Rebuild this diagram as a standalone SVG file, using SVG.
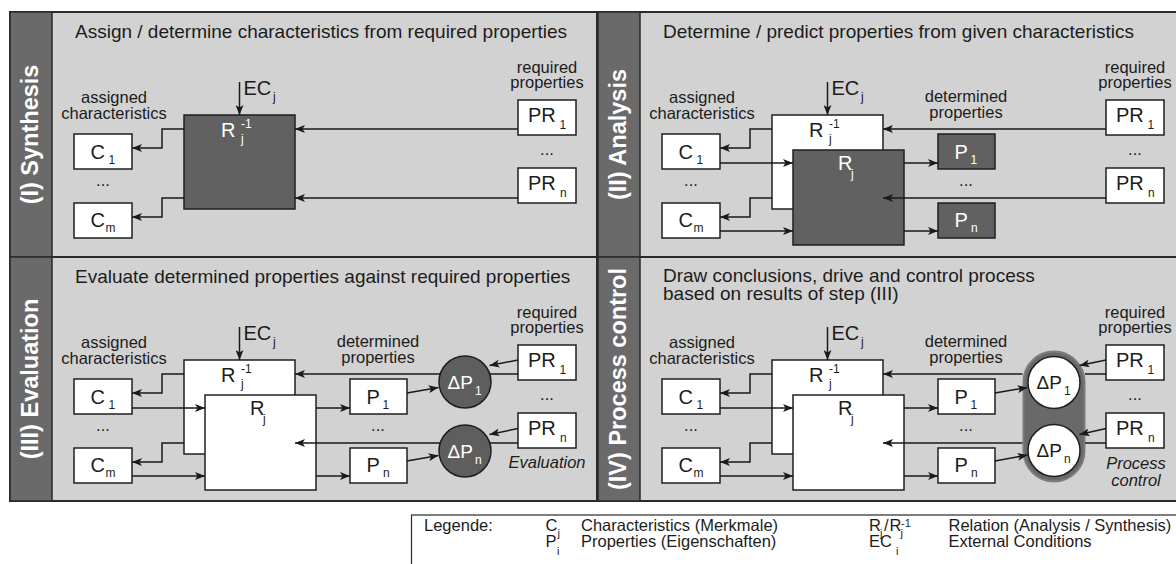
<svg xmlns="http://www.w3.org/2000/svg" width="1176" height="564" viewBox="0 0 1176 564">
  <style>
    text { font-family: "Liberation Sans", Arial, Helvetica, sans-serif; fill: #1c1c1c; }
    .title { font-size: 19px; }
    .lbl { font-size: 16.5px; text-anchor: middle; }
    .ital { font-size: 16.5px; font-style: italic; text-anchor: middle; }
    .sym { font-size: 20px; }
    .csym { font-size: 19px; }
    .sub { font-size: 12px; }
    .bar { font-size: 23.5px; font-weight: bold; fill: #ffffff; text-anchor: middle; }
    .w { fill: #ffffff; }
    .frame { fill: #d2d2d2; stroke: #2a2a2a; stroke-width: 2; }
    .sep { stroke: #2a2a2a; stroke-width: 2; fill: none; }
    .sidebar { fill: #6a6a6a; stroke: #2a2a2a; stroke-width: 1.5; }
    .box { fill: #ffffff; stroke: #1f1f1f; stroke-width: 1.5; }
    .dbox { fill: #616161; stroke: #1f1f1f; stroke-width: 1.5; }
    .dcirc { fill: #5e5e5e; stroke: #1f1f1f; stroke-width: 1.5; }
    .wcirc { fill: #ffffff; stroke: #1f1f1f; stroke-width: 1.5; }
    .pill { fill: #696969; stroke: #7d7d7d; stroke-width: 2; }
    .con { fill: none; stroke: #1a1a1a; stroke-width: 1.5; marker-end: url(#ah); }
    .legend { fill: #ffffff; stroke: #2a2a2a; stroke-width: 1.2; }
    .ltxt { font-size: 16.5px; }
    .lsub { font-size: 11px; }
  </style>
  <defs>
    <marker id="ah" viewBox="0 0 10 8" markerUnits="userSpaceOnUse" markerWidth="10" markerHeight="8" refX="10" refY="4" orient="auto">
      <path d="M0,0 L10,4 L0,8 L2.5,4 Z" fill="#1a1a1a"/>
    </marker>
  </defs>

  <rect width="1176" height="564" fill="#ffffff"/>

  <!-- outer frame, quadrant separators and side bars -->
  <g id="frame">
    <rect class="frame" x="10" y="12" width="1180" height="489"/>
    <path class="sep" d="M10,257 H1180 M597,12 V501"/>
    <rect class="sidebar" x="10" y="12" width="42" height="245"/>
    <rect class="sidebar" x="10" y="257" width="42" height="244"/>
    <rect class="sidebar" x="598" y="12" width="42" height="245"/>
    <rect class="sidebar" x="598" y="257" width="42" height="244"/>
    <text class="bar" transform="translate(38,134.5) rotate(-90)">(I) Synthesis</text>
    <text class="bar" transform="translate(626,134.5) rotate(-90)">(II) Analysis</text>
    <text class="bar" transform="translate(38,379) rotate(-90)">(III) Evaluation</text>
    <text class="bar" transform="translate(626,379) rotate(-90)">(IV) Process control</text>
  </g>

  <!-- (I) Synthesis -->
  <g id="synthesis">
    <text class="title" x="75" y="38">Assign / determine characteristics from required properties</text>
    <text class="lbl" x="114" y="103">assigned</text>
    <text class="lbl" x="114" y="119">characteristics</text>
    <text class="lbl" x="547" y="72.5">required</text>
    <text class="lbl" x="547" y="88">properties</text>
    <text class="sym" x="243.5" y="95">EC<tspan class="sub" x="273" y="101">j</tspan></text>
    <g id="syn-c1"><rect class="box" x="74" y="134" width="58" height="35"/><text class="sym" x="90.5" y="159">C<tspan class="sub" x="108.5" y="164">1</tspan></text></g>
    <text class="lbl" x="103" y="186">...</text>
    <g id="syn-cm"><rect class="box" x="74" y="203" width="58" height="35"/><text class="sym" x="90.5" y="227">C<tspan class="sub" x="105.5" y="232">m</tspan></text></g>
    <g id="syn-rinv"><rect class="dbox" x="184" y="115" width="111" height="94"/><text class="sym w" x="221" y="137">R<tspan class="sub w" x="241" y="128">-1</tspan><tspan class="sub w" x="241" y="143">j</tspan></text></g>
    <g id="syn-pr1"><rect class="box" x="518" y="100" width="58" height="35"/><text class="sym" x="528" y="122">PR<tspan class="sub" x="559.5" y="128.5">1</tspan></text></g>
    <text class="lbl" x="547" y="155">...</text>
    <g id="syn-prn"><rect class="box" x="518" y="168" width="58" height="35"/><text class="sym" x="528" y="190">PR<tspan class="sub" x="560" y="196.5">n</tspan></text></g>
    <g id="syn-connectors">
      <path class="con" d="M239.5,82 V115"/>
      <path class="con" d="M184,129 H162 V148 H132"/>
      <path class="con" d="M184,198 H162 V217 H132"/>
      <path class="con" d="M518,129 H295"/>
      <path class="con" d="M518,198 H295"/>
    </g>
  </g>

  <!-- (II) Analysis -->
  <g id="analysis" transform="translate(588,0)">
    <text class="title" x="75" y="38">Determine / predict properties from given characteristics</text>
    <text class="lbl" x="114" y="103">assigned</text>
    <text class="lbl" x="114" y="119">characteristics</text>
    <text class="lbl" x="378" y="102">determined</text>
    <text class="lbl" x="378" y="118">properties</text>
    <text class="lbl" x="547" y="72.5">required</text>
    <text class="lbl" x="547" y="88">properties</text>
    <text class="sym" x="243.5" y="95">EC<tspan class="sub" x="273" y="101">j</tspan></text>
    <g id="ana-c1"><rect class="box" x="74" y="134" width="58" height="35"/><text class="sym" x="90.5" y="159">C<tspan class="sub" x="108.5" y="164">1</tspan></text></g>
    <text class="lbl" x="103" y="186">...</text>
    <g id="ana-cm"><rect class="box" x="74" y="203" width="58" height="35"/><text class="sym" x="90.5" y="227">C<tspan class="sub" x="105.5" y="232">m</tspan></text></g>
    <g id="ana-rinv"><rect class="box" x="184" y="115" width="111" height="94"/><text class="sym" x="221" y="137">R<tspan class="sub" x="241" y="128">-1</tspan><tspan class="sub" x="241" y="143">j</tspan></text></g>
    <g id="ana-r"><rect class="dbox" x="205" y="150" width="111" height="95"/><text class="sym w" x="250" y="170">R<tspan class="sub w" x="263" y="178">j</tspan></text></g>
    <g id="ana-p1"><rect class="dbox" x="350" y="134" width="57" height="35"/><text class="sym w" x="366.5" y="159">P<tspan class="sub w" x="382.5" y="164">1</tspan></text></g>
    <text class="lbl" x="378" y="186">...</text>
    <g id="ana-pn"><rect class="dbox" x="350" y="203" width="57" height="35"/><text class="sym w" x="366.5" y="227">P<tspan class="sub w" x="383" y="232">n</tspan></text></g>
    <g id="ana-pr1"><rect class="box" x="518" y="100" width="58" height="35"/><text class="sym" x="528" y="122">PR<tspan class="sub" x="559.5" y="128.5">1</tspan></text></g>
    <text class="lbl" x="547" y="155">...</text>
    <g id="ana-prn"><rect class="box" x="518" y="168" width="58" height="35"/><text class="sym" x="528" y="190">PR<tspan class="sub" x="560" y="196.5">n</tspan></text></g>
    <g id="ana-connectors">
      <path class="con" d="M239.5,82 V115"/>
      <path class="con" d="M184,129 H162 V148 H132"/>
      <path class="con" d="M184,198 H162 V217 H132"/>
      <path class="con" d="M132,163 H205"/>
      <path class="con" d="M132,231 H205"/>
      <path class="con" d="M316,163 H350"/>
      <path class="con" d="M316,231 H350"/>
      <path class="con" d="M518,129 H295"/>
      <path class="con" d="M518,198 H295"/>
    </g>
  </g>

  <!-- (III) Evaluation -->
  <g id="evaluation" transform="translate(0,245)">
    <text class="title" x="75" y="38">Evaluate determined properties against required properties</text>
    <text class="lbl" x="114" y="103">assigned</text>
    <text class="lbl" x="114" y="119">characteristics</text>
    <text class="lbl" x="378" y="102">determined</text>
    <text class="lbl" x="378" y="118">properties</text>
    <text class="lbl" x="547" y="72.5">required</text>
    <text class="lbl" x="547" y="88">properties</text>
    <text class="sym" x="243.5" y="95">EC<tspan class="sub" x="273" y="101">j</tspan></text>
    <g id="eva-c1"><rect class="box" x="74" y="134" width="58" height="35"/><text class="sym" x="90.5" y="159">C<tspan class="sub" x="108.5" y="164">1</tspan></text></g>
    <text class="lbl" x="103" y="186">...</text>
    <g id="eva-cm"><rect class="box" x="74" y="203" width="58" height="35"/><text class="sym" x="90.5" y="227">C<tspan class="sub" x="105.5" y="232">m</tspan></text></g>
    <g id="eva-rinv"><rect class="box" x="184" y="115" width="111" height="94"/><text class="sym" x="221" y="137">R<tspan class="sub" x="241" y="128">-1</tspan><tspan class="sub" x="241" y="143">j</tspan></text></g>
    <g id="eva-r"><rect class="box" x="205" y="150" width="111" height="95"/><text class="sym" x="250" y="170">R<tspan class="sub" x="263" y="178">j</tspan></text></g>
    <g id="eva-p1"><rect class="box" x="350" y="134" width="57" height="35"/><text class="sym" x="366.5" y="159">P<tspan class="sub" x="382.5" y="164">1</tspan></text></g>
    <text class="lbl" x="378" y="186">...</text>
    <g id="eva-pn"><rect class="box" x="350" y="203" width="57" height="35"/><text class="sym" x="366.5" y="227">P<tspan class="sub" x="383" y="232">n</tspan></text></g>
    <g id="eva-dp1"><circle class="dcirc" cx="465" cy="137" r="26"/><text class="csym w" x="447.5" y="143.5">ΔP<tspan class="sub w" x="475" y="149.5">1</tspan></text></g>
    <g id="eva-dpn"><circle class="dcirc" cx="465" cy="206" r="26"/><text class="csym w" x="447.5" y="212.5">ΔP<tspan class="sub w" x="475" y="218.5">n</tspan></text></g>
    <g id="eva-pr1"><rect class="box" x="518" y="100" width="58" height="35"/><text class="sym" x="528" y="122">PR<tspan class="sub" x="559.5" y="128.5">1</tspan></text></g>
    <text class="lbl" x="547" y="155">...</text>
    <g id="eva-prn"><rect class="box" x="518" y="168" width="58" height="35"/><text class="sym" x="528" y="190">PR<tspan class="sub" x="560" y="196.5">n</tspan></text></g>
    <text class="ital" x="547" y="223">Evaluation</text>
    <g id="eva-connectors">
      <path class="con" d="M239.5,82 V115"/>
      <path class="con" d="M184,129 H162 V148 H132"/>
      <path class="con" d="M184,198 H162 V217 H132"/>
      <path class="con" d="M132,163 H205"/>
      <path class="con" d="M132,231 H205"/>
      <path class="con" d="M316,163 H350"/>
      <path class="con" d="M316,231 H350"/>
      <path class="con" d="M407,148 L438.5,142.5"/>
      <path class="con" d="M407,216 L438.5,210.5"/>
      <path class="con" d="M518,115 L489.5,120.5"/>
      <path class="con" d="M518,183.5 L489.5,189.5"/>
      <path class="con" d="M518,129 H490 M440,129 H295"/>
      <path class="con" d="M518,198 H490 M440,198 H295"/>
    </g>
  </g>

  <!-- (IV) Process control -->
  <g id="process-control" transform="translate(588,245)">
    <text class="title" x="75" y="37">Draw conclusions, drive and control process</text>
    <text class="title" x="75" y="55">based on results of step (III)</text>
    <text class="lbl" x="114" y="103">assigned</text>
    <text class="lbl" x="114" y="119">characteristics</text>
    <text class="lbl" x="378" y="102">determined</text>
    <text class="lbl" x="378" y="118">properties</text>
    <text class="lbl" x="547" y="72.5">required</text>
    <text class="lbl" x="547" y="88">properties</text>
    <text class="sym" x="243.5" y="95">EC<tspan class="sub" x="273" y="101">j</tspan></text>
    <g id="pc-c1"><rect class="box" x="74" y="134" width="58" height="35"/><text class="sym" x="90.5" y="159">C<tspan class="sub" x="108.5" y="164">1</tspan></text></g>
    <text class="lbl" x="103" y="186">...</text>
    <g id="pc-cm"><rect class="box" x="74" y="203" width="58" height="35"/><text class="sym" x="90.5" y="227">C<tspan class="sub" x="105.5" y="232">m</tspan></text></g>
    <g id="pc-rinv"><rect class="box" x="184" y="115" width="111" height="94"/><text class="sym" x="221" y="137">R<tspan class="sub" x="241" y="128">-1</tspan><tspan class="sub" x="241" y="143">j</tspan></text></g>
    <g id="pc-r"><rect class="box" x="205" y="150" width="111" height="95"/><text class="sym" x="250" y="170">R<tspan class="sub" x="263" y="178">j</tspan></text></g>
    <g id="pc-p1"><rect class="box" x="350" y="134" width="57" height="35"/><text class="sym" x="366.5" y="159">P<tspan class="sub" x="382.5" y="164">1</tspan></text></g>
    <text class="lbl" x="378" y="186">...</text>
    <g id="pc-pn"><rect class="box" x="350" y="203" width="57" height="35"/><text class="sym" x="366.5" y="227">P<tspan class="sub" x="383" y="232">n</tspan></text></g>
    <g id="pc-control">
      <rect class="pill" x="435.5" y="106.5" width="61" height="130" rx="30.5" ry="30.5"/>
      <g id="pc-dp1"><circle class="wcirc" cx="466" cy="137.5" r="26"/><text class="csym" x="448.5" y="144">ΔP<tspan class="sub" x="476" y="150">1</tspan></text></g>
      <g id="pc-dpn"><circle class="wcirc" cx="466" cy="205.5" r="26"/><text class="csym" x="448.5" y="212">ΔP<tspan class="sub" x="476" y="218">n</tspan></text></g>
    </g>
    <g id="pc-pr1"><rect class="box" x="518" y="100" width="58" height="35"/><text class="sym" x="528" y="122">PR<tspan class="sub" x="559.5" y="128.5">1</tspan></text></g>
    <text class="lbl" x="547" y="155">...</text>
    <g id="pc-prn"><rect class="box" x="518" y="168" width="58" height="35"/><text class="sym" x="528" y="190">PR<tspan class="sub" x="560" y="196.5">n</tspan></text></g>
    <text class="ital" x="548" y="224">Process</text>
    <text class="ital" x="548" y="241">control</text>
    <g id="pc-connectors">
      <path class="con" d="M239.5,82 V115"/>
      <path class="con" d="M184,129 H162 V148 H132"/>
      <path class="con" d="M184,198 H162 V217 H132"/>
      <path class="con" d="M132,163 H205"/>
      <path class="con" d="M132,231 H205"/>
      <path class="con" d="M316,163 H350"/>
      <path class="con" d="M316,231 H350"/>
      <path class="con" d="M407,148 L439.5,142.5"/>
      <path class="con" d="M407,216 L439.5,210"/>
      <path class="con" d="M518,115 L491.5,120.5"/>
      <path class="con" d="M518,183.5 L491.5,189.5"/>
      <path class="con" d="M518,129 H497 M434.5,129 H295"/>
      <path class="con" d="M518,198 H497 M434.5,198 H295"/>
    </g>
  </g>

  <!-- legend -->
  <g id="legend">
    <rect class="legend" x="411.5" y="515" width="800" height="60"/>
    <text class="ltxt" x="424" y="531">Legende:</text>
    <text class="ltxt" x="545.5" y="531">C<tspan class="lsub" x="557.5" y="537">j</tspan></text>
    <text class="ltxt" x="581" y="531">Characteristics (Merkmale)</text>
    <text class="ltxt" x="545.5" y="547">P<tspan class="lsub" x="557" y="555">i</tspan></text>
    <text class="ltxt" x="581" y="547">Properties (Eigenschaften)</text>
    <text class="ltxt" x="869" y="531">R<tspan class="lsub" x="880" y="537">j</tspan><tspan x="884" y="531">/</tspan><tspan x="889.5" y="531">R</tspan><tspan class="lsub" x="901" y="527">-1</tspan><tspan class="lsub" x="900.5" y="537">j</tspan></text>
    <text class="ltxt" x="948.5" y="531">Relation (Analysis / Synthesis)</text>
    <text class="ltxt" x="869" y="547">EC<tspan class="lsub" x="896" y="555">i</tspan></text>
    <text class="ltxt" x="948.5" y="547">External Conditions</text>
  </g>
</svg>
